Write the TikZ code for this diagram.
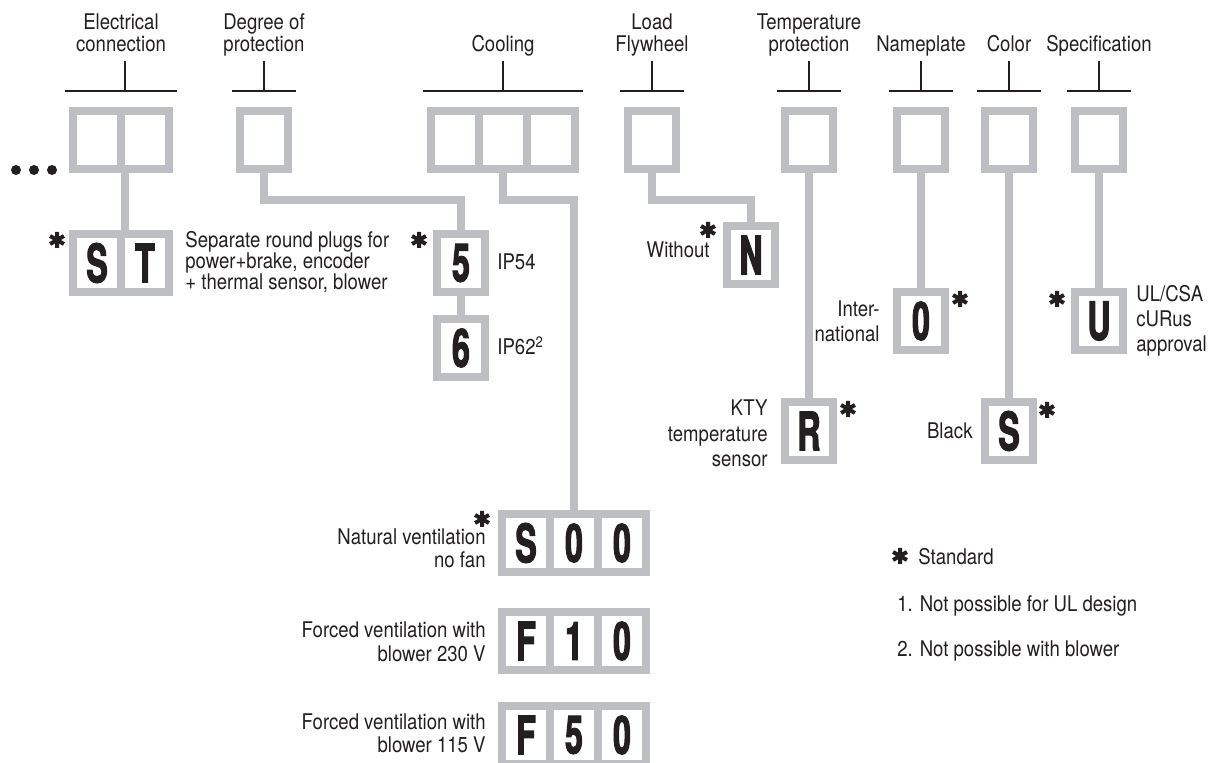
\documentclass[tikz,border=0pt]{standalone}
\usepackage{fontspec}
\setmainfont{TeX Gyre Heros}[FakeStretch=0.86]
\newfontfamily\letfont{TeX Gyre Heros}[BoldFeatures={FakeStretch=0.6,FakeBold=2.2}]
\usetikzlibrary{calc}
\definecolor{boxgray}{RGB}{190,191,194}
\definecolor{ink}{RGB}{35,31,32}
\tikzset{
  cell/.style={draw=boxgray, line width=4pt, minimum width=24pt, minimum height=29pt,
    inner sep=0pt, text=ink, font=\letfont\bfseries\fontsize{26.5pt}{26pt}\selectfont},
  conn/.style={draw=boxgray, line width=4pt, line join=miter},
  hdr/.style={draw=ink, line width=0.55pt},
  lbl/.style={inner sep=0pt, text=ink, font=\fontsize{10.8pt}{12pt}\selectfont},
  lc/.style={lbl, anchor=base},
  lw/.style={lbl, anchor=base west},
  le/.style={lbl, anchor=base east},
  dotc/.style={circle, fill=ink, minimum size=5pt, inner sep=0pt},
  stdstar/.pic={\draw[ink, line width=2pt] (90:4pt) -- (270:4pt) (30:4pt) -- (210:4pt) (150:4pt) -- (330:4pt);}
}
\newcommand\hdrbar[2]{%
  \draw[hdr] ($(#1.north west)+(-4,-16)$) -- ($(#2.north east)+(4,-16)$);}
\begin{document}
\begin{tikzpicture}[x=0.5pt,y=-0.5pt]
\useasboundingbox (0,0) rectangle (1212,763);
% top row cells
\node[cell] (e1) at (97,140) {};
\node[cell] (e2) at (145,140) {};
\node[cell] (d1) at (264,140) {};
\node[cell] (c1) at (455,140) {};
\node[cell] (c2) at (503,140) {};
\node[cell] (c3) at (551,140) {};
\node[cell] (l1) at (652,140) {};
\node[cell] (t1) at (809,140) {};
\node[cell] (np1) at (921,140) {};
\node[cell] (co1) at (1009,140) {};
\node[cell] (sp1) at (1099,140) {};
% dots
\node[dotc] (dt1) at (16,170) {};
\node[dotc] (dt2) at (34,170) {};
\node[dotc] (dt3) at (52,170) {};
% option cells
\node[cell] (st1) at (97,263) {S};
\node[cell] (st2) at (145,263) {T};
\node[cell] (p5) at (461,263) {5};
\node[cell] (p6) at (461,348) {6};
\node[cell] (n1) at (751,255) {N};
\node[cell] (r1) at (809,431) {R};
\node[cell] (o1) at (921,321) {0};
\node[cell] (sc1) at (1009,431) {S};
\node[cell] (u1) at (1099,321) {U};
\node[cell] (s1) at (526,543) {S};
\node[cell] (s2) at (574,543) {0};
\node[cell] (s3) at (622,543) {0};
\node[cell] (f1) at (526,641) {F};
\node[cell] (f2) at (574,641) {1};
\node[cell] (f3) at (622,641) {0};
\node[cell] (g1) at (526,735) {F};
\node[cell] (g2) at (574,735) {5};
\node[cell] (g3) at (622,735) {0};
% connectors
\coordinate (jD) at (360,200);
\coordinate (jC) at (540,200);
\coordinate (jL) at (700,200);
\draw[conn] (e1.south east) -- (st1.north east);
\draw[conn] (d1.south) |- (jD) -| (p5.north);
\draw[conn] (p5.south) -- (p6.north);
\draw[conn] (c2.south) |- (jC) -| (s2.north);
\draw[conn] (l1.south) |- (jL) -| (n1.north);
\draw[conn] (t1.south) -- (r1.north);
\draw[conn] (np1.south) -- (o1.north);
\draw[conn] (co1.south) -- (sc1.north);
\draw[conn] (sp1.south) -- (u1.north);
% header brackets
\hdrbar{e1}{e2}
\hdrbar{d1}{d1}
\hdrbar{c1}{c3}
\hdrbar{l1}{l1}
\hdrbar{t1}{t1}
\hdrbar{np1}{np1}
\hdrbar{co1}{co1}
\hdrbar{sp1}{sp1}
\draw[hdr] ($(e1.north east)+(0,-16)$) -- ++(0,-30);
\draw[hdr] ($(d1.north)+(0,-16)$) -- ++(0,-30);
\draw[hdr] ($(c2.north)+(0,-16)$) -- ++(0,-30);
\draw[hdr] ($(l1.north)+(0,-16)$) -- ++(0,-30);
\draw[hdr] ($(t1.north)+(0,-16)$) -- ++(0,-30);
\draw[hdr] ($(np1.north)+(0,-16)$) -- ++(0,-30);
\draw[hdr] ($(co1.north)+(0,-16)$) -- ++(0,-30);
\draw[hdr] ($(sp1.north)+(0,-16)$) -- ++(0,-30);
% header labels
\node[lc] (he1) at (121,30) {Electrical};
\node[lc] (he2) at (121,52) {connection};
\node[lc] (hd1) at (264,30) {Degree of};
\node[lc] (hd2) at (264,52) {protection};
\node[lc] (hc1) at (503,52) {Cooling};
\node[lc] (hl1) at (652,30) {Load};
\node[lc] (hl2) at (652,52) {Flywheel};
\node[lc] (ht1) at (809,30) {Temperature};
\node[lc] (ht2) at (809,52) {protection};
\node[lc] (hn1) at (921,52) {Nameplate};
\node[lc] (hco) at (1009,52) {Color};
\node[lc] (hsp) at (1099,52) {Specification};
% option labels
\node[lw] (tst1) at (185,248) {Separate round plugs for};
\node[lw] (tst2) at (185,269) {power+brake, encoder};
\node[lw] (tst3) at (185,290) {+ thermal sensor, blower};
\node[lw] (tp5) at (497,270) {IP54};
\node[lw] (tp6) at (497,355) {IP62\textsuperscript{2}};
\node[le] (tn) at (710,258) {Without};
\node[le] (to1) at (880,317) {Inter-};
\node[le] (to2) at (880,342) {national};
\node[le] (tr1) at (768,416) {KTY};
\node[le] (tr2) at (768,442) {temperature};
\node[le] (tr3) at (768,467) {sensor};
\node[le] (tsc) at (973,439) {Black};
\node[lw] (tu1) at (1136,302) {UL/CSA};
\node[lw] (tu2) at (1136,327) {cURus};
\node[lw] (tu3) at (1136,352) {approval};
\node[le] (ts1) at (486,545) {Natural ventilation};
\node[le] (ts2) at (486,568) {no fan};
\node[le] (tf1) at (486,638) {Forced ventilation with};
\node[le] (tf2) at (486,662) {blower 230 V};
\node[le] (tg1) at (486,730) {Forced ventilation with};
\node[le] (tg2) at (486,753) {blower 115 V};
% stars
\pic at (57,240) {stdstar};
\pic at (419,240) {stdstar};
\pic at (708,230) {stdstar};
\pic at (848,409) {stdstar};
\pic at (960,299) {stdstar};
\pic at (1047,410) {stdstar};
\pic at (1057,299) {stdstar};
\pic at (482,519) {stdstar};
\pic at (900,556) {stdstar};
% legend
\node[lw] (lg1) at (918,565) {Standard};
\node[lw] (lg2) at (897,612) {1. Not possible for UL design};
\node[lw] (lg3) at (897,657) {2. Not possible with blower};
\end{tikzpicture}
\end{document}
